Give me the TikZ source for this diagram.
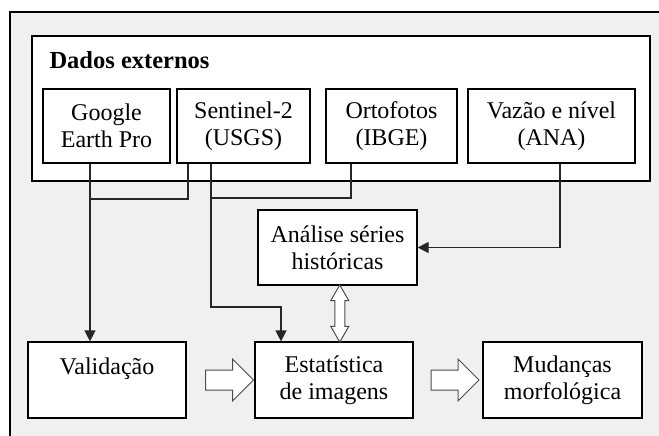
\documentclass[tikz,border=0pt]{standalone}
\usepackage{fontspec}
\setmainfont{Liberation Serif}
\usetikzlibrary{arrows.meta,shapes.arrows,calc}
\definecolor{bggray}{RGB}{240,240,240}
\tikzstyle{box}=[rectangle,draw=black,fill=white,line width=1.2pt,
                 align=center,inner sep=0pt]
\tikzstyle{link}=[draw=black!85,line width=1.2pt]
\tikzstyle{tip}=[-{Triangle[length=11pt,width=11pt]}]
\tikzstyle{fatarrow}=[single arrow,draw=black!70,fill=white,line width=1pt,
                      inner sep=9.5pt,single arrow head extend=11pt,
                      minimum height=48pt]
\tikzstyle{twoway}=[double arrow,draw=black!70,fill=white,line width=1pt,
                    inner sep=4.5pt,double arrow head extend=4pt,
                    double arrow tip angle=60,minimum height=57pt,rotate=90]

\begin{document}
\begin{tikzpicture}[x=1pt,y=-1pt,font=\fontsize{24}{27}\selectfont]
    \useasboundingbox (0,0) rectangle (659,436);
    \fill[bggray] (10,12) rectangle (659,436);
    \draw[line width=1.5pt] (10,436) -- (10,12) -- (659,12);
    % external data
    \node (dados) at (341,108.5) [box,minimum width=618pt,minimum height=145pt]{};
    \node (titulo) at (46,60) [anchor=west,font=\fontsize{24.5}{27}\selectfont\bfseries]{Dados externos};
    \node (google) at (106.5,126) [box,minimum width=127pt,minimum height=74pt]{Google\\Earth Pro};
    \node (sentinel) at (243.5,126) [box,minimum width=133pt,minimum height=74pt]{Sentinel-2\\(USGS)};
    \node (orto) at (391.5,126) [box,minimum width=131pt,minimum height=74pt]{Ortofotos\\(IBGE)};
    \node (vazao) at (551.5,126) [box,minimum width=167pt,minimum height=74pt]{Vazão e nível\\(ANA)};
    % processing
    \node (analise) at (337.5,247.5) [box,minimum width=159pt,minimum height=75pt]{Análise séries\\históricas};
    \node (valid) at (107,380) [box,minimum width=158pt,minimum height=76pt]{Validação\\\mbox{}};
    \node (estat) at (334,380) [box,minimum width=158pt,minimum height=76pt]{Estatística\\de imagens};
    \node (mudan) at (562.5,380) [box,minimum width=159pt,minimum height=76pt]{Mudanças\\morfológica};
    % connectors
    \coordinate (gj) at (90,199);
    \coordinate (sa) at (188,0);
    \coordinate (sj) at (211,198);
    \coordinate (sk) at (281,307);
    \coordinate (oj) at (351,0);
    \coordinate (vj) at (560,0);
    \draw[link,tip] (google.south -| gj) -- (valid.north -| gj);
    \draw[link] (sentinel.south -| sa) |- (gj);
    \draw[link] (orto.south -| oj) |- (sj);
    \draw[link,tip] (sentinel.south -| sj) |- (sk) -- (estat.north -| sk);
    \draw[link,tip] (vazao.south -| vj) |- (analise.east);
    \node (dupla) at ($(analise.south)!0.5!(estat.north)+(4,0)$) [twoway]{};
    \node (seta1) at ($(valid.east)!0.5!(estat.west)+(4,0)$) [fatarrow]{};
    \node (seta2) at ($(estat.east)!0.5!(mudan.west)+(2,0)$) [fatarrow]{};
\end{tikzpicture}
\end{document}
